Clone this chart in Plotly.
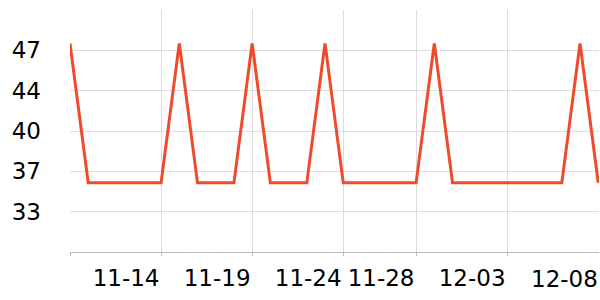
import plotly.graph_objects as go
import pandas as pd

dates = pd.date_range("2023-11-09", "2023-12-08", freq="D").strftime("%Y-%m-%d").tolist()
values = [47.9, 35.8, 35.8, 35.8, 35.8, 35.8, 47.9, 35.8, 35.8, 35.8,
          47.9, 35.8, 35.8, 35.8, 47.9, 35.8, 35.8, 35.8, 35.8, 35.8,
          47.9, 35.8, 35.8, 35.8, 35.8, 35.8, 35.8, 35.8, 47.9, 35.8]

x_tickvals = ["2023-11-09", "2023-11-14", "2023-11-19", "2023-11-24", "2023-11-28", "2023-12-03"]
x_ticktext = ["", "11-14", "11-19", "11-24", "11-28", "12-03"]
last_label_date = "2023-12-08"
last_label_text = "12-08"
y_tickvals = [33.3, 36.8, 40.3, 43.8, 47.3]
y_ticktext = ["33", "37", "40", "44", "47"]

FONT = dict(family="DejaVu Sans", size=23, color="#000000")

fig = go.Figure()
fig.add_trace(go.Scatter(x=dates, y=values, mode="lines",
                         line=dict(color="#ee4b2b", width=3),
                         hoverinfo="skip"))

fig.update_layout(
    width=600, height=300,
    margin=dict(l=70, r=1, t=10, b=48),
    paper_bgcolor="white", plot_bgcolor="white",
    showlegend=False,
    font=FONT,
)
fig.update_xaxes(
    type="date",
    range=[dates[0], "2023-12-08 01:00"],
    tickmode="array", tickvals=x_tickvals, ticktext=x_ticktext,
    showgrid=True, gridcolor="#dddddd", gridwidth=1,
    showline=True, linecolor="#bbbbbb", linewidth=1,
    ticks="outside", ticklen=3, tickcolor="#bbbbbb",
    ticklabelshift=-35, ticklabelstandoff=2,
    zeroline=False,
)
fig.update_yaxes(
    range=[29.8, 50.8],
    tickmode="array", tickvals=y_tickvals, ticktext=y_ticktext,
    showgrid=True, gridcolor="#dddddd", gridwidth=1,
    showline=False, ticks="", zeroline=False,
    ticklabelstandoff=28,
)
fig.add_annotation(x=last_label_date, y=0, xref="x", yref="paper",
                   text=last_label_text, showarrow=False,
                   xanchor="right", yanchor="top", yshift=-12,
                   font=FONT, xshift=2)
fig.write_html("out.html")
